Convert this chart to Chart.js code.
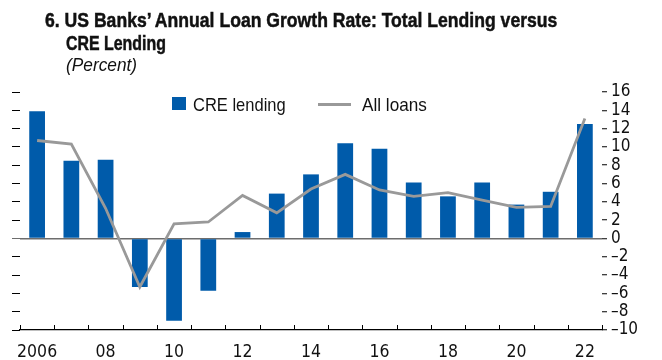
<!DOCTYPE html>
<html>
<head>
<meta charset="utf-8">
<script src="https://cdn.jsdelivr.net/npm/chart.js@4"></script>
<style>
  body { margin: 0; background: #fff; }
  #wrap { position: relative; width: 662px; height: 360px; color: #111;
          font-family: 'Liberation Sans', Arial, sans-serif; }
  canvas { position: absolute; left: 0; top: 0; }
  .t { position: absolute; white-space: nowrap; transform-origin: 0 0; line-height: 1; }
  .b { font-weight: bold; font-size: 21px; -webkit-text-stroke: 0.5px #111; }
</style>
</head>
<body>
<div id="wrap">
  <canvas id="c" width="662" height="360"></canvas>
  <div class="t b" data-w="512" style="left:45px;top:9px">6.&nbsp;US Banks’ Annual Loan Growth Rate: Total Lending versus</div>
  <div class="t b" data-w="100" style="left:66px;top:32px">CRE Lending</div>
  <div class="t" data-w="71" style="left:66px;top:55px;font-style:italic;font-size:19px">(Percent)</div>
  <div class="t" style="left:172px;top:97px;width:14px;height:13px;background:#005BAA"></div>
  <div class="t" data-w="93" style="left:193px;top:95px;font-size:19px">CRE lending</div>
  <div class="t" style="left:318px;top:103px;width:33px;height:3px;background:#999"></div>
  <div class="t" data-w="65" style="left:362px;top:95px;font-size:19px">All loans</div>
</div>
<script>
// values, percent
const years = ['2006','2007','2008','2009','2010','2011','2012','2013','2014','2015','2016','2017','2018','2019','2020','2021','2022'];
const xLabels = ['2006','','08','','10','','12','','14','','16','','18','','20','','22'];
const creLending = [13.9, 8.5, 8.6, -5.3, -9.0, -5.7, 0.7, 4.9, 7.0, 10.4, 9.8, 6.1, 4.6, 6.1, 3.7, 5.1, 12.5];
const allLoans = [10.7, 10.3, 3.3, -5.3, 1.6, 1.8, 4.7, 2.8, 5.4, 7.0, 5.3, 4.6, 5.0, 4.2, 3.4, 3.5, 13.1];
const yMin = -10, yMax = 16, yStep = 2;

// no narrow font installed, so squeeze the html texts to the widths of the original
document.querySelectorAll('.t[data-w]').forEach(el => {
  el.style.transform = 'scaleX(' + (el.dataset.w / el.scrollWidth) + ')';
});

const fontFam = "'DejaVu Sans Condensed', 'Liberation Sans', sans-serif";

// little upward tick marks between the years on the bottom axis
const xTicks = {
  id: 'xTicks',
  afterDraw(chart) {
    const x = chart.scales.x, ctx = chart.ctx;
    const half = (x.getPixelForValue(1) - x.getPixelForValue(0)) / 2;
    const b = chart.chartArea.bottom;
    ctx.save();
    ctx.strokeStyle = '#000';
    ctx.lineWidth = 1;
    ctx.beginPath();
    for (let i = 0; i <= years.length; i++) {
      const px = Math.round(x.getPixelForValue(i) - half) + 0.5;
      ctx.moveTo(px, b);
      ctx.lineTo(px, b - 5);
    }
    ctx.stroke();
    ctx.restore();
  }
};

new Chart(document.getElementById('c'), {
  data: {
    labels: years,
    datasets: [
      {
        type: 'line', label: 'All loans', data: allLoans, yAxisID: 'y', order: 0,
        borderColor: '#999999', borderWidth: 2.8, pointRadius: 0, tension: 0, fill: false
      },
      {
        type: 'bar', label: 'CRE lending', data: creLending, yAxisID: 'y', order: 1,
        backgroundColor: '#005BAA', categoryPercentage: 1, barPercentage: 0.46
      }
    ]
  },
  options: {
    responsive: false,
    animation: false,
    layout: { padding: { top: 92, left: 12, right: 0, bottom: 0 } },
    plugins: { legend: { display: false }, tooltip: { enabled: false } },
    scales: {
      x: {
        offset: true,
        grid: { display: false },
        border: { display: true, color: '#000', width: 1.3 },
        ticks: {
          autoSkip: false, maxRotation: 0, padding: 4, color: '#111',
          font: { family: fontFam, size: 17.5 },
          callback: (v, i) => xLabels[i]
        },
        afterFit: s => { s.height = 30; }
      },
      yL: {
        position: 'left', min: yMin, max: yMax,
        ticks: { display: false, stepSize: yStep, autoSkip: false },
        grid: {
          drawOnChartArea: false, tickLength: 8, tickWidth: 1,
          tickColor: c => c.tick.value === 0 ? '#6d6d6d' : '#000'
        },
        border: { display: false },
        afterFit: s => { s.width = 8; }
      },
      y: {
        position: 'right', min: yMin, max: yMax,
        ticks: {
          stepSize: yStep, autoSkip: false, padding: 4, color: '#111',
          font: { family: fontFam, size: 17 },
          callback: v => String(v).replace('-', '\u2013')
        },
        grid: {
          drawOnChartArea: true, tickLength: 5, tickWidth: 1, tickColor: '#000',
          lineWidth: 1.5,
          color: c => c.tick.value === 0 ? '#6d6d6d' : 'rgba(0,0,0,0)'
        },
        border: { display: false },
        afterFit: s => { s.width = 60; }
      }
    }
  },
  plugins: [xTicks]
});
</script>
</body>
</html>
